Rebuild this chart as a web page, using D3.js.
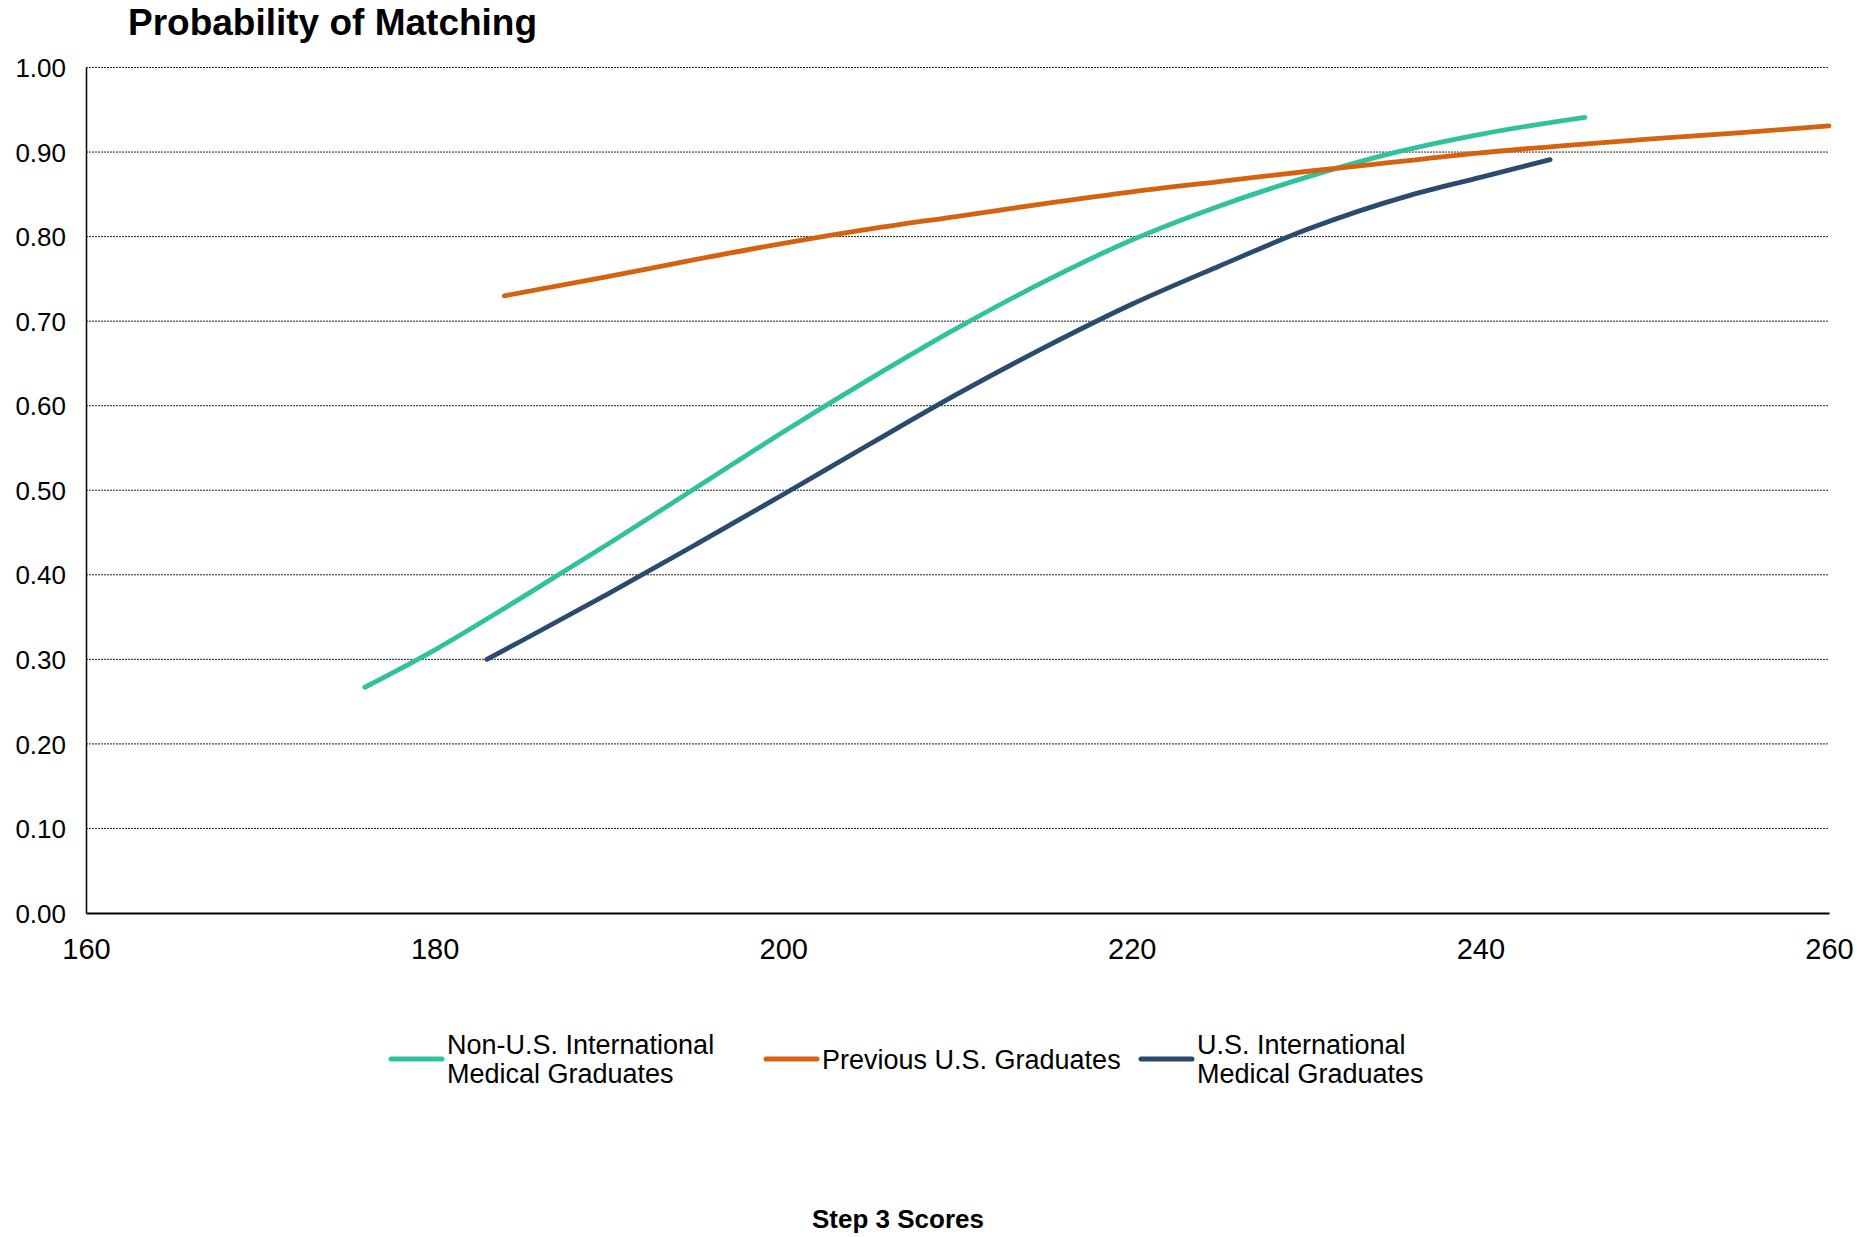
<!DOCTYPE html>
<html>
<head>
<meta charset="utf-8">
<script src="https://cdn.jsdelivr.net/npm/d3@7"></script>
<style>
  html, body { margin: 0; padding: 0; background: #fff; }
  svg { display: block; font-family: "Liberation Sans", Arial, sans-serif; }
</style>
</head>
<body>
<svg id="chart" width="1874" height="1237"></svg>
<script>
// ---- data ----
const title = "Probability of Matching";
const xTitle = "Step 3 Scores";
const xTicks = [160, 180, 200, 220, 240, 260];
const yTicks = [0, 0.1, 0.2, 0.3, 0.4, 0.5, 0.6, 0.7, 0.8, 0.9, 1.0];

const seriesNames = ["Non-U.S. International Medical Graduates", "Previous U.S. Graduates", "U.S. International Medical Graduates"];
const legendLines = [["Non-U.S. International", "Medical Graduates"], ["Previous U.S. Graduates"], ["U.S. International", "Medical Graduates"]];
const seriesColors = ["#31c29b", "#d5620f", "#2a4a6e"];

const nonUSScores = [176, 180, 185, 190, 195, 200, 205, 210, 215, 220, 225, 230, 235, 240, 246];
const nonUSValues = [0.267, 0.311, 0.373, 0.437, 0.503, 0.569, 0.632, 0.692, 0.747, 0.796, 0.836, 0.870, 0.899, 0.921, 0.941];

const prevUSScores = [184, 190, 195, 200, 205, 210, 215, 220, 225, 230, 235, 240, 245, 250, 255, 260];
const prevUSValues = [0.730, 0.753, 0.773, 0.792, 0.809, 0.824, 0.839, 0.853, 0.865, 0.877, 0.888, 0.899, 0.908, 0.916, 0.923, 0.931];

const usIMGScores = [183, 185, 190, 195, 200, 205, 210, 215, 220, 225, 230, 236, 240, 244];
const usIMGValues = [0.300, 0.322, 0.378, 0.436, 0.495, 0.555, 0.614, 0.669, 0.720, 0.765, 0.808, 0.849, 0.870, 0.891];

const seriesScores = [nonUSScores, prevUSScores, usIMGScores];
const seriesValues = [nonUSValues, prevUSValues, usIMGValues];

// ---- layout ----
const margin = { left: 86, right: 1874 - 1829, top: 67.5, bottom: 1237 - 913 };
const W = 1874, H = 1237;
const svg = d3.select("#chart");

const x = d3.scaleLinear().domain([160, 260]).range([margin.left, W - margin.right]);
const y = d3.scaleLinear().domain([0, 1]).range([H - margin.bottom, margin.top]);

// gridlines
svg.append("g").selectAll("line")
  .data(yTicks.filter(d => d > 0))
  .join("line")
  .attr("x1", x(160)).attr("x2", x(260))
  .attr("y1", d => y(d)).attr("y2", d => y(d))
  .attr("stroke", "#222").attr("stroke-width", 1)
  .attr("stroke-dasharray", "2,1");

// y axis
const yAxis = svg.append("g")
  .attr("transform", `translate(${x(160)},0)`)
  .call(d3.axisLeft(y).tickValues(yTicks).tickFormat(d3.format(".2f")).tickSize(0).tickPadding(20));
yAxis.select(".domain").attr("stroke", "#000").attr("stroke-width", 1.5);
yAxis.selectAll("text").attr("font-size", 26).attr("fill", "#000")
  .attr("font-family", "'Liberation Sans', Arial, sans-serif").attr("dy", "0.35em");

// x axis
const xAxis = svg.append("g")
  .attr("transform", `translate(0,${y(0)})`)
  .call(d3.axisBottom(x).tickValues(xTicks).tickFormat(d3.format("d")).tickSize(0));
xAxis.select(".domain").attr("stroke", "#000").attr("stroke-width", 2);
xAxis.selectAll("text").attr("font-size", 29).attr("fill", "#000")
  .attr("font-family", "'Liberation Sans', Arial, sans-serif")
  .attr("y", 46).attr("dy", null);

// lines
const line = d3.line().x(d => x(d[0])).y(d => y(d[1])).curve(d3.curveMonotoneX);
seriesNames.forEach((name, i) => {
  const pts = seriesScores[i].map((s, j) => [s, seriesValues[i][j]]);
  svg.append("path")
    .datum(pts)
    .attr("d", line)
    .attr("fill", "none")
    .attr("stroke", seriesColors[i])
    .attr("stroke-width", 4.8)
    .attr("stroke-linecap", "round")
    .attr("stroke-linejoin", "round")
    .attr("aria-label", name);
});

// title
svg.append("text")
  .attr("x", 128).attr("y", 35)
  .attr("font-size", 37).attr("font-weight", "bold").attr("fill", "#000")
  .text(title);

// x axis title
svg.append("text")
  .attr("x", 898).attr("y", 1228)
  .attr("text-anchor", "middle")
  .attr("font-size", 26).attr("font-weight", "bold").attr("fill", "#000")
  .text(xTitle);

// legend
const legendX = [391, 766, 1141];
const legendY = 1059;
const leg = svg.append("g");
legendLines.forEach((lines, i) => {
  const g = leg.append("g");
  g.append("line")
    .attr("x1", legendX[i]).attr("x2", legendX[i] + 51)
    .attr("y1", legendY).attr("y2", legendY)
    .attr("stroke", seriesColors[i]).attr("stroke-width", 5)
    .attr("stroke-linecap", "round");
  const t = g.append("text")
    .attr("x", legendX[i] + 56)
    .attr("font-size", 27).attr("fill", "#000");
  const n = lines.length;
  lines.forEach((ln, k) => {
    t.append("tspan")
      .attr("x", legendX[i] + 56)
      .attr("y", legendY + 9.5 + (k - (n - 1) / 2) * 29)
      .text(ln);
  });
});
</script>
</body>
</html>
